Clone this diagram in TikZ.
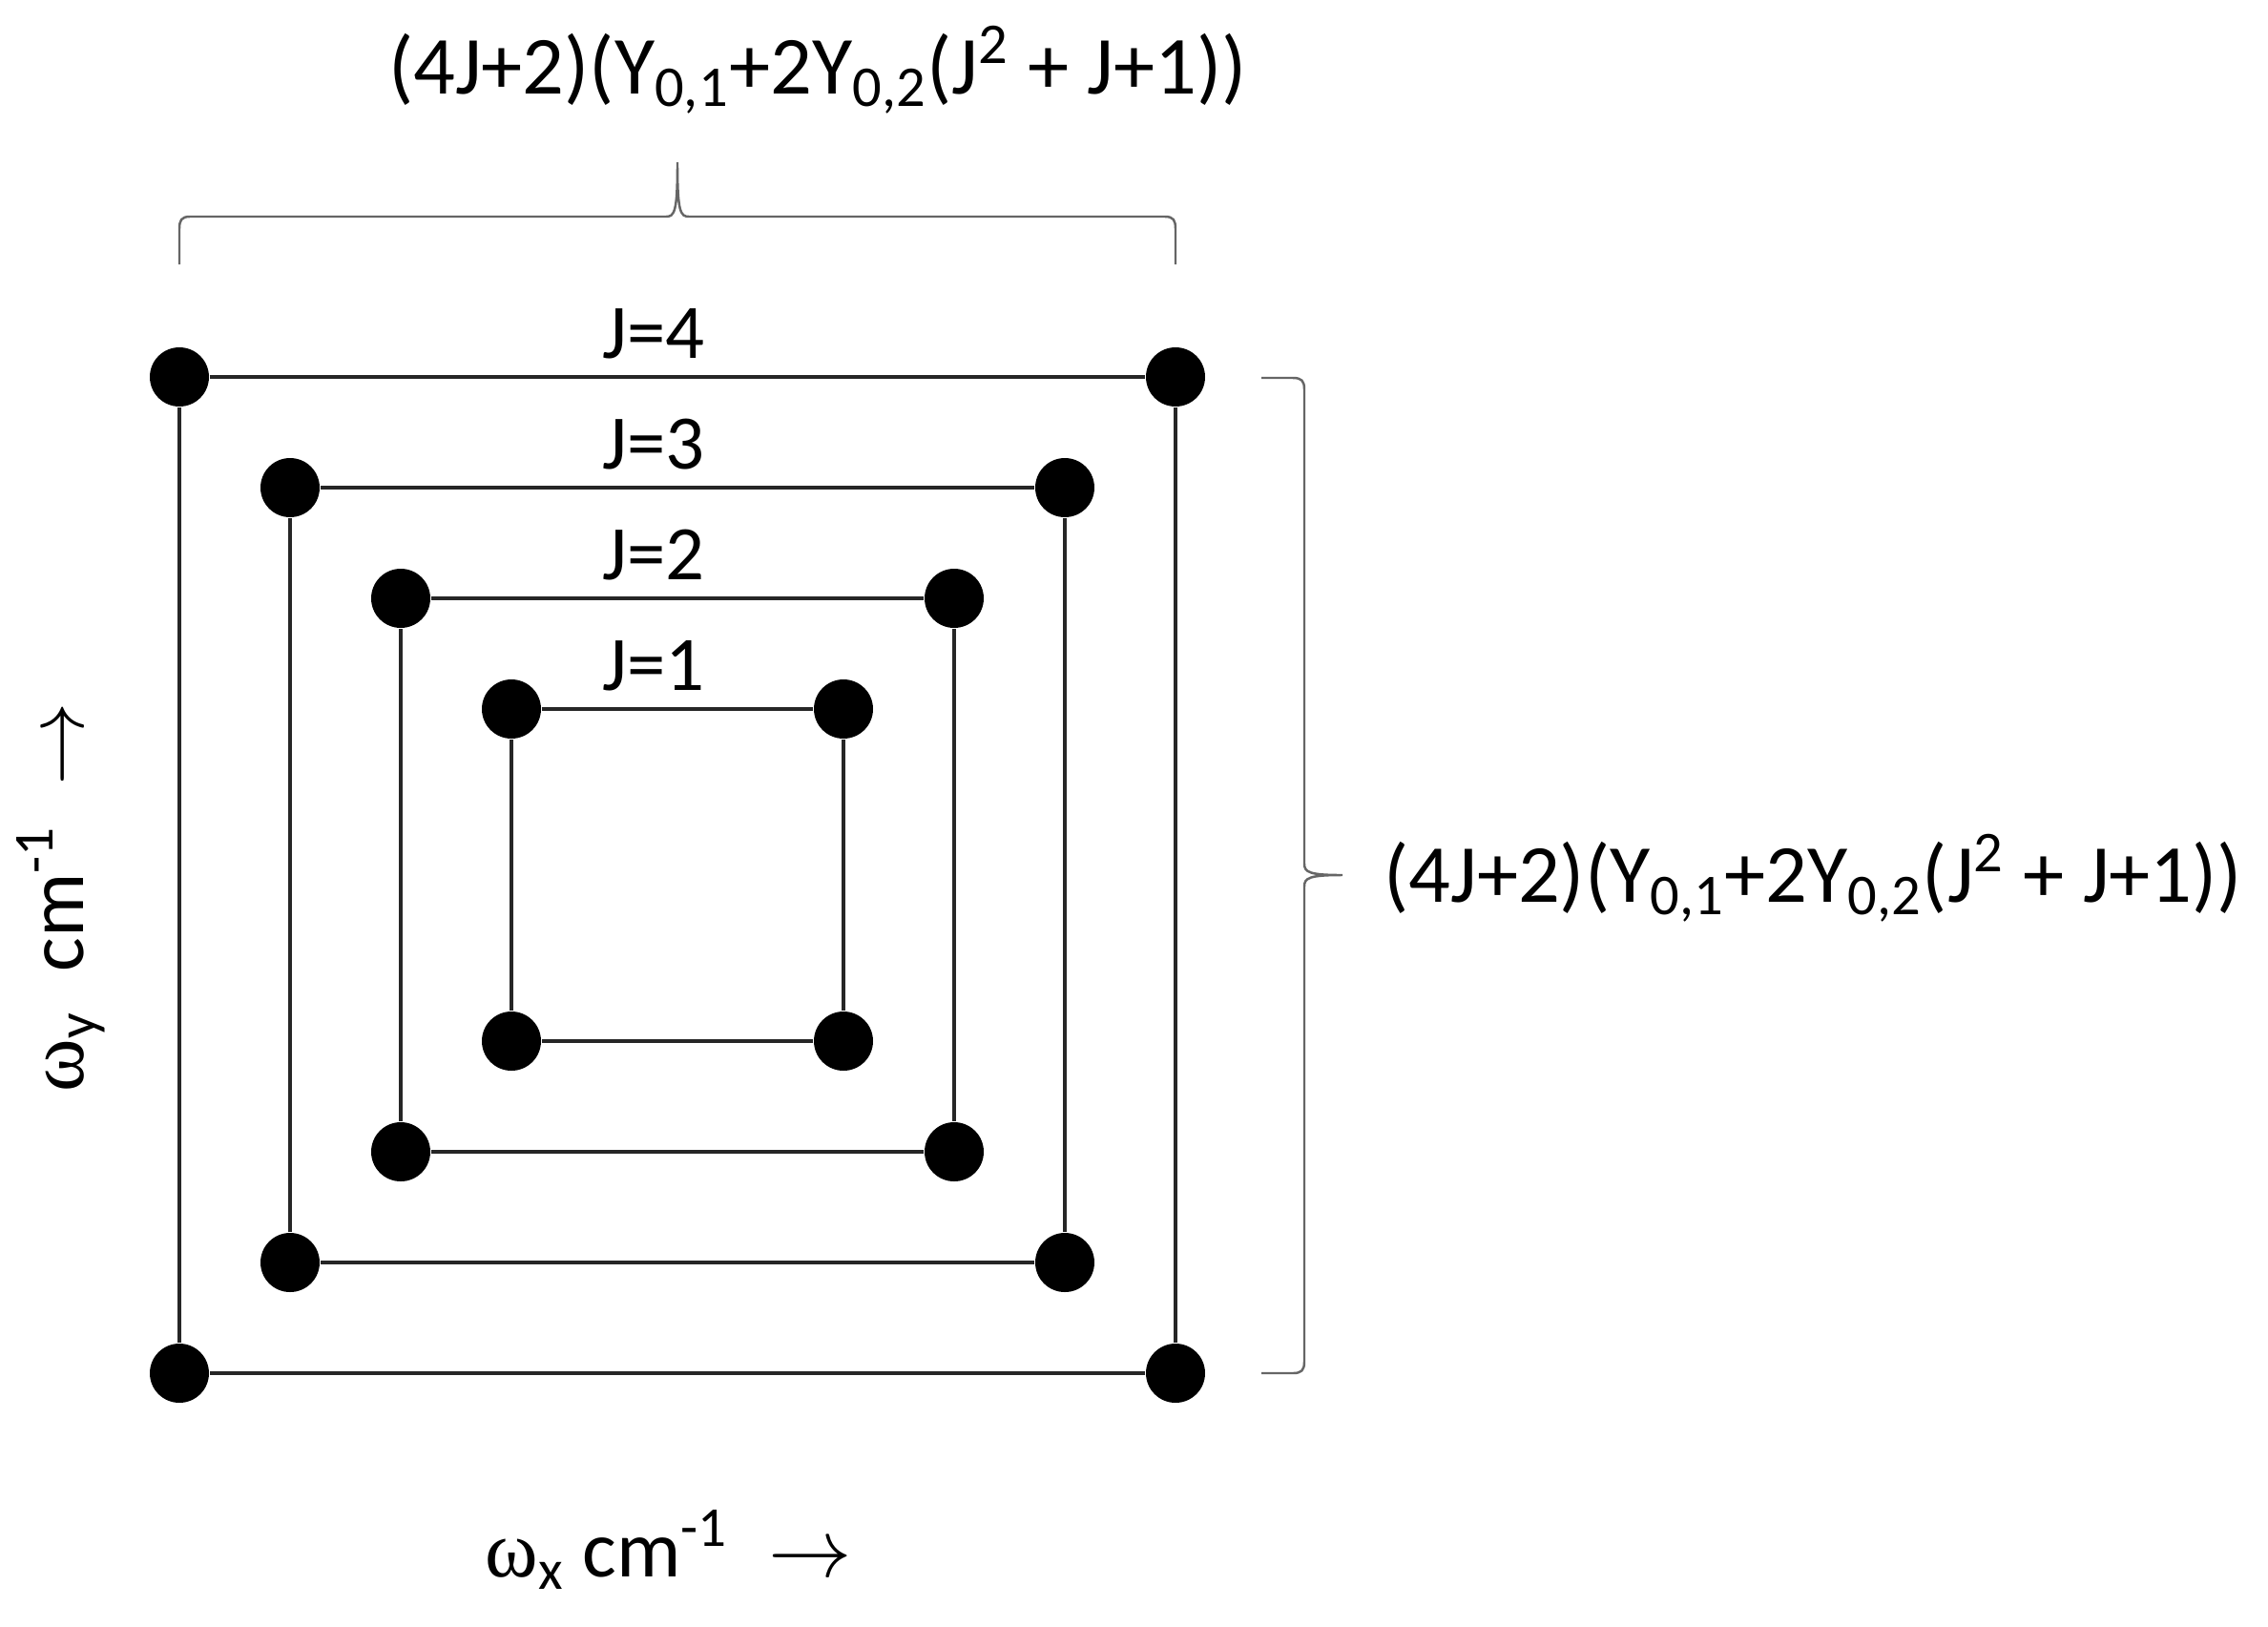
\documentclass[tikz,border=0pt]{standalone}
\usepackage{fontspec}
\setmainfont{Carlito}
\newfontfamily\greekfont{Liberation Serif}
\usetikzlibrary{positioning}

\newcommand{\om}{{\greekfont ω}}

\begin{document}
\begin{tikzpicture}[
    dot/.style={circle,fill=black,inner sep=0pt,minimum size=0.62cm},
    side/.style={line width=0.9pt,draw=black!85},
    level label/.style={anchor=base,font=\fontsize{23}{27}\selectfont},
    brace line/.style={line width=0.7pt,draw=black!60},
    formula/.style={anchor=base,font=\fontsize{24.6}{29}\selectfont},
    axis label/.style={font=\fontsize{24}{28}\selectfont}]
  \useasboundingbox (0,0) rectangle (23.77,-17.05);
  \coordinate (c) at (7.10,-9.17);

  % nested squares, one per J
  \foreach \j in {1,...,4} {
    \pgfmathsetmacro\h{1.16*(\j+0.5)}
    \node[dot] (tl\j) at ([shift={(-\h,\h)}]c) {};
    \node[dot] (tr\j) at ([shift={(\h,\h)}]c) {};
    \node[dot] (br\j) at ([shift={(\h,-\h)}]c) {};
    \node[dot] (bl\j) at ([shift={(-\h,-\h)}]c) {};
    \draw[side] (tl\j) -- (tr\j) -- (br\j) -- (bl\j) -- (tl\j);
    \node[level label] (lab\j) at ([shift={(-0.25,\h+0.2)}]c) {J=\j};
  }

  % braces
  \draw[brace line] (1.88,-2.77) -- (1.88,-2.40)
      .. controls (1.88,-2.31) and (1.90,-2.27) .. (1.99,-2.27) -- (6.98,-2.27)
      .. controls (7.07,-2.27) and (7.10,-2.22) .. (7.10,-1.70)
      .. controls (7.10,-2.22) and (7.13,-2.27) .. (7.22,-2.27) -- (12.21,-2.27)
      .. controls (12.30,-2.27) and (12.32,-2.31) .. (12.32,-2.40) -- (12.32,-2.77);
  \draw[brace line] (13.22,-3.96) -- (13.55,-3.96)
      .. controls (13.64,-3.96) and (13.67,-3.99) .. (13.67,-4.08) -- (13.67,-9.05)
      .. controls (13.67,-9.14) and (13.72,-9.17) .. (14.07,-9.17)
      .. controls (13.72,-9.17) and (13.67,-9.20) .. (13.67,-9.29) -- (13.67,-14.27)
      .. controls (13.67,-14.36) and (13.64,-14.39) .. (13.55,-14.39) -- (13.22,-14.39);

  % formulas
  \node[formula] (top) at (8.57,-0.98)
      {(4J+2)(Y\textsubscript{0,1}+2Y\textsubscript{0,2}(J\textsuperscript{2} + J+1))};
  \node[formula,anchor=base west] (right) at (14.38,-9.45)
      {(4J+2)(Y\textsubscript{0,1}+2Y\textsubscript{0,2}(J\textsuperscript{2} + J+1))};

  % axes
  \node[axis label,anchor=base] (xlab) at (7.01,-16.52)
      {\om\textsubscript{x} cm\textsuperscript{-1}\enspace$\rightarrow$};
  \node[axis label,rotate=90] (ylab) at (0.64,-9.40)
      {\om\textsubscript{y}\enspace cm\textsuperscript{-1}\enspace$\rightarrow$};
\end{tikzpicture}
\end{document}
